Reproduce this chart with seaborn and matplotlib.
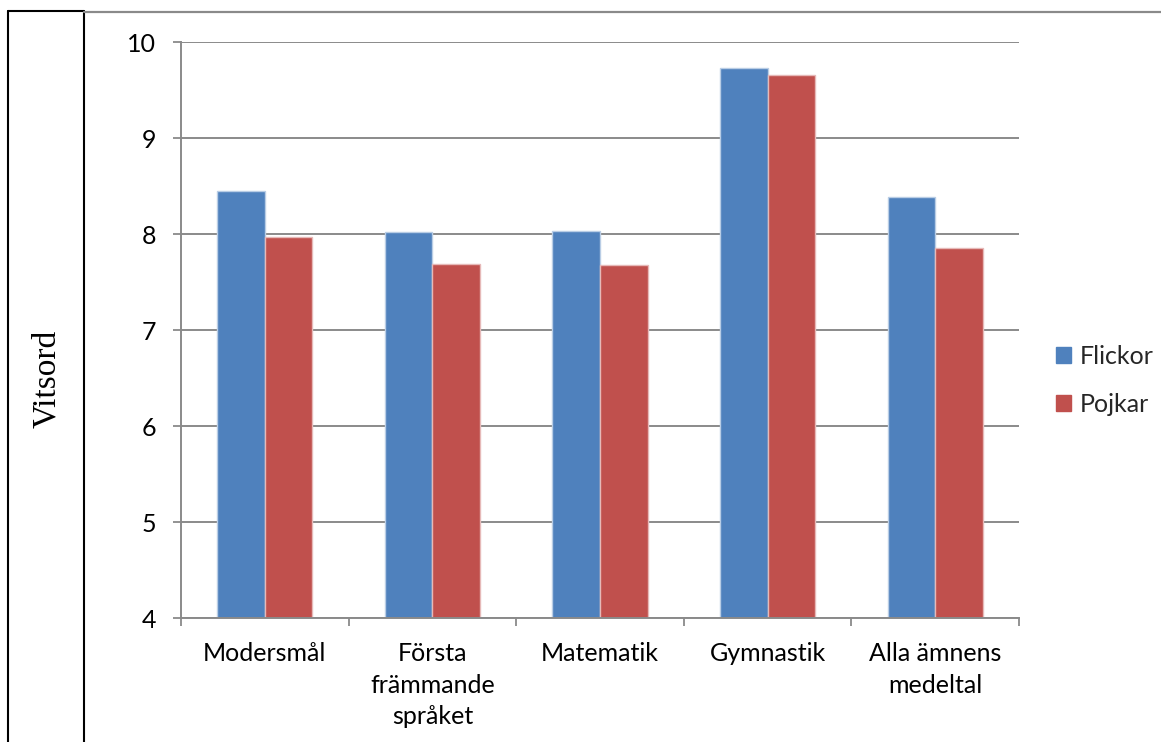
import matplotlib
matplotlib.use("Agg")
import matplotlib.pyplot as plt
from matplotlib.lines import Line2D
from matplotlib.patches import Patch
import seaborn as sns
import pandas as pd

subjects = ["Modersmål", "Första\nfrämmande\nspråket", "Matematik", "Gymnastik", "Alla ämnens\nmedeltal"]
flickor = [8.45, 8.02, 8.03, 9.73, 8.39]
pojkar = [7.97, 7.69, 7.68, 9.66, 7.85]
groups = ["Flickor", "Pojkar"]
yticks = [4, 5, 6, 7, 8, 9, 10]

colors = {"Flickor": "#4F81BD", "Pojkar": "#C0504D"}
edges = {"Flickor": "#B9CDE5", "Pojkar": "#E6B9B8"}

df = pd.DataFrame({
    "Ämne": subjects * 2,
    "Vitsord": flickor + pojkar,
    "Kön": [groups[0]] * len(subjects) + [groups[1]] * len(subjects),
})

sns.set_theme(style="white")
plt.rcParams["font.family"] = ["Lato", "DejaVu Sans"]

FS = 18
W, H = 1161, 742
fig = plt.figure(figsize=(W / 100, H / 100), dpi=100)
ax = fig.add_axes([181 / W, 1 - 618 / H, (1019 - 181) / W, (618 - 42) / H])

sns.barplot(data=df, x="Ämne", y="Vitsord", hue="Kön", order=subjects,
            hue_order=groups, palette=colors, width=0.567, gap=0,
            saturation=1, ax=ax, legend=False)

# light outline around each bar, per series
for cont, g in zip(ax.containers, groups):
    for bar in cont:
        bar.set_edgecolor(edges[g])
        bar.set_linewidth(1.0)

ax.set_ylim(4, 10)
ax.set_xlim(-0.5, len(subjects) - 0.5)
ax.set_yticks(yticks)
ax.set_yticklabels([str(t) for t in yticks], fontsize=FS, color="black")

# category boundaries carry the tick marks, centres carry the labels
ax.set_xticks([i - 0.5 for i in range(len(subjects) + 1)])
ax.set_xticklabels([])
ax.set_xticks(range(len(subjects)), minor=True)
ax.set_xticklabels(subjects, minor=True, fontsize=FS, color="black", linespacing=1.47)
ax.tick_params(axis="x", which="major", length=6, width=1.3, color="#8a8a8a", direction="out", bottom=True)
ax.tick_params(axis="x", which="minor", length=0, pad=17, bottom=True)
ax.tick_params(axis="y", length=6, width=1.3, color="#8a8a8a", direction="out", pad=12, left=True)

ax.set_xlabel("")
ax.set_ylabel("")
ax.grid(axis="y", color="#8a8a8a", linewidth=1.4)
ax.set_axisbelow(True)
for side in ["top", "right"]:
    ax.spines[side].set_visible(False)
for side in ["left", "bottom"]:
    ax.spines[side].set_color("#8a8a8a")
    ax.spines[side].set_linewidth(1.4)

handles = [Patch(facecolor=colors[g], edgecolor=colors[g]) for g in groups]
fig.legend(handles, groups, loc="center left", bbox_to_anchor=(1033 / W, 1 - 380 / H),
           frameon=False, fontsize=FS, handlelength=0.62, handleheight=0.62,
           handletextpad=0.35, labelspacing=1.0)

# frame of the label column and the top rule
lc = "black"
fig.add_artist(Line2D([8 / W, 8 / W], [0, 1 - 11 / H], color=lc, lw=1.5))
fig.add_artist(Line2D([84 / W, 84 / W], [0, 1 - 11 / H], color=lc, lw=1.5))
fig.add_artist(Line2D([8 / W, 84 / W], [1 - 11 / H, 1 - 11 / H], color=lc, lw=1.5))
fig.add_artist(Line2D([84 / W, 1], [1 - 12 / H, 1 - 12 / H], color="#8a8a8a", lw=1.6))

fig.text(47 / W, 1 - 379 / H, "Vitsord", rotation=90, ha="center", va="center",
         fontsize=24, family=["Liberation Serif", "DejaVu Serif"], color="black")

fig.savefig("out.png", dpi=100)
